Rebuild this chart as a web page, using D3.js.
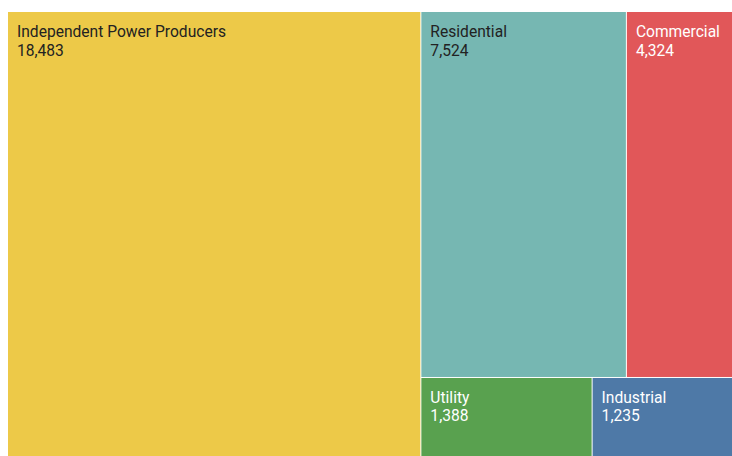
<!DOCTYPE html>
<html>
<head>
<meta charset="utf-8">
<script src="https://cdn.jsdelivr.net/npm/d3@7"></script>
<style>
  html, body { margin: 0; padding: 0; background: #fff; overflow: hidden; }
  svg text { font-family: Roboto, "Noto Sans", sans-serif; font-size: 15.6px; }
</style>
</head>
<body>
<svg id="chart" width="732" height="456"></svg>
<script>
// data
const categories = ["Independent Power Producers", "Residential", "Commercial", "Utility", "Industrial"];
const values = [18483, 7524, 4324, 1388, 1235];
const colors = ["#EDC948", "#76B7B2", "#E15759", "#59A14F", "#4E79A7"];
const textColors = ["#222", "#222", "#fff", "#fff", "#fff"];

const margin = { top: 12, left: 8 };
const width = 736, height = 446;

const svg = d3.select("#chart");
const g = svg.append("g").attr("transform", `translate(${margin.left},${margin.top})`);

const root = d3.hierarchy({
    children: categories.map((name, i) => ({ name, value: values[i], i }))
  })
  .sum(d => d.value || 0)
  .sort((a, b) => b.value - a.value);

d3.treemap()
  .size([width, height])
  .tile(d3.treemapSquarify)
  .paddingInner(1)(root);

const fmt = d3.format(",");

const cell = g.selectAll("g.cell")
  .data(root.leaves())
  .join("g")
  .attr("class", "cell")
  .attr("transform", d => `translate(${d.x0},${d.y0})`);

cell.append("rect")
  .attr("width", d => d.x1 - d.x0)
  .attr("height", d => d.y1 - d.y0)
  .attr("fill", d => colors[d.data.i]);

cell.append("text")
  .attr("x", 9)
  .attr("y", 25)
  .attr("fill", d => textColors[d.data.i])
  .text(d => d.data.name);

cell.append("text")
  .attr("x", 9)
  .attr("y", 43.5)
  .attr("fill", d => textColors[d.data.i])
  .text(d => fmt(d.data.value));
</script>
</body>
</html>
